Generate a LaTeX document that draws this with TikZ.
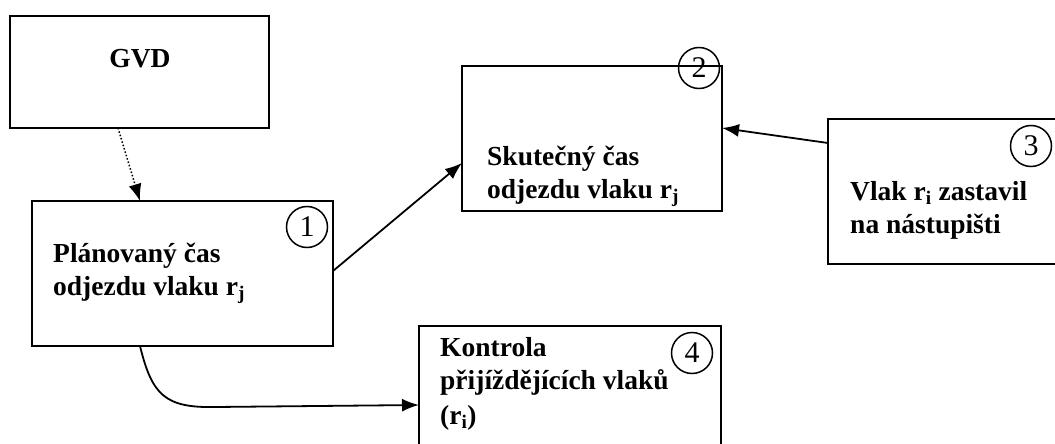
\documentclass[tikz,border=0pt]{standalone}
\usepackage{fontspec}
\setmainfont{Liberation Serif}
\usetikzlibrary{arrows.meta}
\begin{document}
\begin{tikzpicture}[x=1pt,y=-1pt,
  box/.style={draw,line width=2pt,fill=none},
  num/.style={draw,line width=1.5pt,circle,minimum size=41pt,inner sep=0pt,font=\fontsize{30}{30}\selectfont},
  lbl/.style={anchor=base west,inner sep=0pt,font=\fontsize{27.5}{33}\selectfont\bfseries},
  conn/.style={line width=1.8pt,-{Latex[length=17pt,width=13pt]}}]
\useasboundingbox (0,0) rectangle (1055,444);
% boxes
\draw[box] (10,16) rectangle (269,128);
\node[lbl,anchor=base] (tgvd) at (140,68) {GVD};
\coordinate (gvdout) at (118,128);

\draw[box] (32,201) rectangle (333,346);
\coordinate (b1top) at (140,201);
\coordinate (b1right) at (333,271);
\coordinate (b1bot) at (140,346);
\node[num] (n1) at (307,227) {1};
\node[lbl] (t1a) at (53,262) {Plánovaný čas};
\node[lbl] (t1b) at (53,295) {odjezdu vlaku r\textsubscript{j}};

\draw[box] (462,66) rectangle (722,211);
\coordinate (b2left) at (462,163);
\coordinate (b2right) at (722,128);
\node[num] (n2) at (699,68) {2};
\node[lbl] (t2a) at (487,165) {Skutečný čas};
\node[lbl] (t2b) at (487,198) {odjezdu vlaku r\textsubscript{j}};

\draw[box] (828,119) rectangle (1070,264);
\coordinate (b3left) at (828,143);
\node[num] (n3) at (1031,146) {3};
\node[lbl] (t3a) at (850,200) {Vlak r\textsubscript{i} zastavil};
\node[lbl] (t3b) at (850,233) {na nástupišti};

\draw[box] (419,326) rectangle (721,460);
\coordinate (b4left) at (419,405);
\node[num] (n4) at (692,353) {4};
\node[lbl] (t4a) at (440,356) {Kontrola};
\node[lbl] (t4b) at (440,389) {přijíždějících vlaků};
\node[lbl] (t4c) at (440,424) {(r\textsubscript{i})};

% connectors
\draw[line width=1.5pt,dotted,-{Latex[length=17pt,width=13pt]}] (gvdout) -- (b1top);
\draw[conn] (b1right) -- (b2left);
\draw[conn] (b3left) -- (b2right);
\draw[conn] (b1bot) .. controls (152,395) and (165,408) .. (215,407) -- (b4left);
\end{tikzpicture}
\end{document}
